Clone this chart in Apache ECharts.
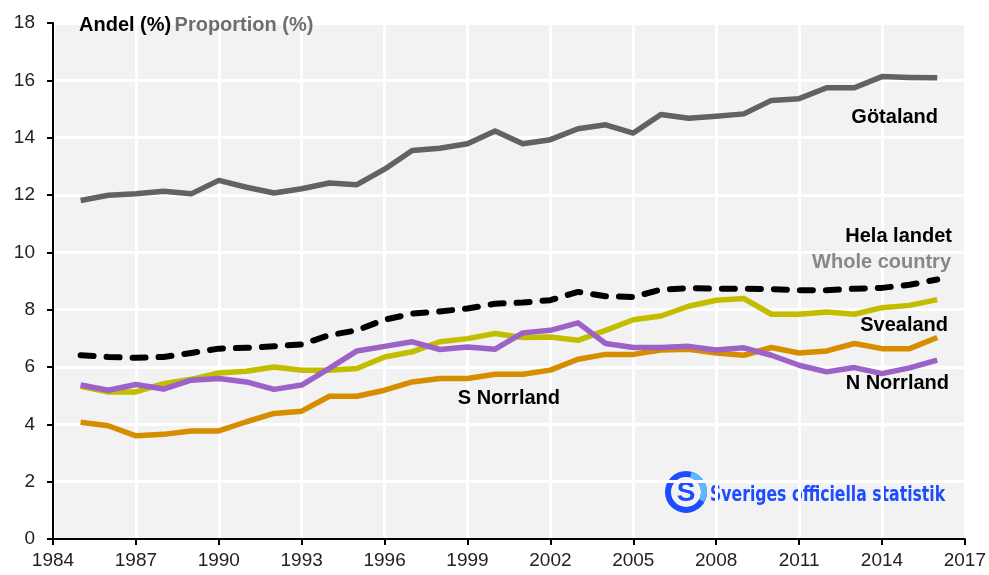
<!DOCTYPE html>
<html>
<head>
<meta charset="utf-8">
<script src="https://cdn.jsdelivr.net/npm/echarts@6/dist/echarts.min.js"></script>
<style>
  html, body { margin: 0; padding: 0; background: #fff; }
  #chart { width: 989px; height: 575px; }
</style>
</head>
<body>
<div id="chart"></div>
<script>
// axis categories 1984-2017, data runs 1985-2016
var years = ['1984', '1985', '1986', '1987', '1988', '1989', '1990', '1991', '1992', '1993',
  '1994', '1995', '1996', '1997', '1998', '1999', '2000', '2001', '2002', '2003',
  '2004', '2005', '2006', '2007', '2008', '2009', '2010', '2011', '2012', '2013',
  '2014', '2015', '2016', '2017']

var gotaland = [null, 11.81, 11.99, 12.04, 12.13, 12.04, 12.51, 12.27, 12.07, 12.22,
  12.42, 12.36, 12.90, 13.55, 13.63, 13.79, 14.23, 13.79, 13.93, 14.31,
  14.45, 14.16, 14.81, 14.68, 14.75, 14.83, 15.30, 15.36, 15.74, 15.74,
  16.13, 16.10, 16.09, null]

var helaLandet = [null, 6.41, 6.35, 6.32, 6.35, 6.49, 6.64, 6.67, 6.72, 6.79,
  7.11, 7.28, 7.65, 7.86, 7.94, 8.04, 8.21, 8.25, 8.33, 8.62,
  8.47, 8.44, 8.70, 8.75, 8.73, 8.73, 8.72, 8.68, 8.68, 8.73,
  8.76, 8.87, 9.05, null]

var svealand = [null, 5.33, 5.13, 5.13, 5.42, 5.57, 5.79, 5.85, 6.00, 5.89,
  5.89, 5.95, 6.35, 6.53, 6.88, 6.99, 7.17, 7.03, 7.05, 6.93,
  7.28, 7.65, 7.78, 8.12, 8.33, 8.39, 7.84, 7.84, 7.92, 7.84,
  8.07, 8.15, 8.35, null]

var nNorrland = [null, 5.37, 5.19, 5.39, 5.23, 5.54, 5.60, 5.48, 5.22, 5.37,
  5.95, 6.56, 6.72, 6.88, 6.61, 6.70, 6.62, 7.19, 7.28, 7.54,
  6.82, 6.68, 6.68, 6.72, 6.59, 6.67, 6.41, 6.06, 5.83, 5.98,
  5.77, 5.97, 6.24, null]

var sNorrland = [null, 4.07, 3.95, 3.60, 3.65, 3.77, 3.77, 4.09, 4.38, 4.46,
  4.98, 4.98, 5.19, 5.48, 5.60, 5.60, 5.75, 5.75, 5.89, 6.27,
  6.44, 6.44, 6.59, 6.62, 6.49, 6.41, 6.68, 6.49, 6.56, 6.82,
  6.64, 6.64, 7.03, null]

var font = 'Liberation Sans, Arial, Helvetica, sans-serif'

function lineSeries(name, data, color, dashed) {
  return {
    name: name,
    type: 'line',
    data: data,
    symbol: 'none',
    silent: true,
    animation: false,
    lineStyle: {
      color: color,
      width: dashed ? 6 : 5.5,
      type: dashed ? [13, 13] : 'solid',
      cap: dashed ? 'round' : 'butt',
      join: 'round'
    }
  }
}

// series labels, x = right edge, y = middle
function label(text, x, y, color) {
  return {
    type: 'text', x: x, y: y, z: 100,
    style: {
      text: text, fill: color,
      font: 'bold 20px ' + font,
      align: 'right', verticalAlign: 'middle'
    }
  }
}

var chart = echarts.init(document.getElementById('chart'))
chart.setOption({
  backgroundColor: '#fff',
  grid: {
    left: 53, right: 24, top: 23, bottom: 36,
    show: true, backgroundColor: '#f2f2f2', borderWidth: 0
  },
  xAxis: {
    type: 'category',
    data: years,
    boundaryGap: false,
    axisLine: { lineStyle: { color: '#000', width: 2 } },
    axisTick: { show: true, interval: 2, length: 6, lineStyle: { color: '#000', width: 2 } },
    axisLabel: { interval: 2, color: '#222', fontSize: 19, fontFamily: font, margin: 12 },
    splitLine: { show: true, interval: 2, lineStyle: { color: '#fff', width: 3 } }
  },
  yAxis: {
    type: 'value',
    min: 0, max: 18, interval: 2,
    axisLine: { show: true, lineStyle: { color: '#000', width: 2 } },
    axisTick: { show: true, length: 6, lineStyle: { color: '#000', width: 2 } },
    axisLabel: { color: '#222', fontSize: 19, fontFamily: font, margin: 18 },
    splitLine: { show: true, lineStyle: { color: '#fff', width: 3 } }
  },
  series: [
    lineSeries('S Norrland', sNorrland, '#d68d00'),
    lineSeries('Svealand', svealand, '#c3bd00'),
    lineSeries('N Norrland', nNorrland, '#9c62c8'),
    lineSeries('Götaland', gotaland, '#616265'),
    lineSeries('Hela landet', helaLandet, '#000', true)
  ],
  graphic: [
    {
      type: 'text', x: 79, y: 25, z: 100,
      style: {
        rich: {
          a: { font: 'bold 20px ' + font, fill: '#000' },
          b: { font: 'bold 20px ' + font, fill: '#6e6e6e' }
        },
        text: '{a|Andel (%)} {b|Proportion (%)}',
        verticalAlign: 'middle'
      }
    },
    label('Götaland', 938, 117, '#000'),
    label('Hela landet', 952, 236, '#000'),
    label('Whole country', 951, 262, '#888'),
    label('Svealand', 948, 325, '#000'),
    label('N Norrland', 949, 383, '#000'),
    label('S Norrland', 560, 398, '#000'),
    {
      type: 'group', x: 686, y: 492, z: 100,
      children: [
        { type: 'circle', shape: { cx: 0, cy: 0, r: 18 }, style: { fill: 'none', stroke: '#1e4dff', lineWidth: 6 } },
        { type: 'arc', shape: { cx: 0, cy: 0, r: 18, startAngle: -1.3, endAngle: 0.5 }, style: { fill: 'none', stroke: '#5cb8ff', lineWidth: 6 } },
        { type: 'text', x: 0, y: 1, style: { text: 'S', font: 'bold 28px ' + font, fill: '#1e4dff', align: 'center', verticalAlign: 'middle' } },
        {
          type: 'text', x: 24, y: 4, scaleX: 0.83,
          style: { text: 'Sveriges officiella statistik', font: 'bold 21px "DejaVu Sans Condensed", sans-serif', fill: '#1e4dff', verticalAlign: 'middle' }
        }
      ]
    }
  ]
})
</script>
</body>
</html>
